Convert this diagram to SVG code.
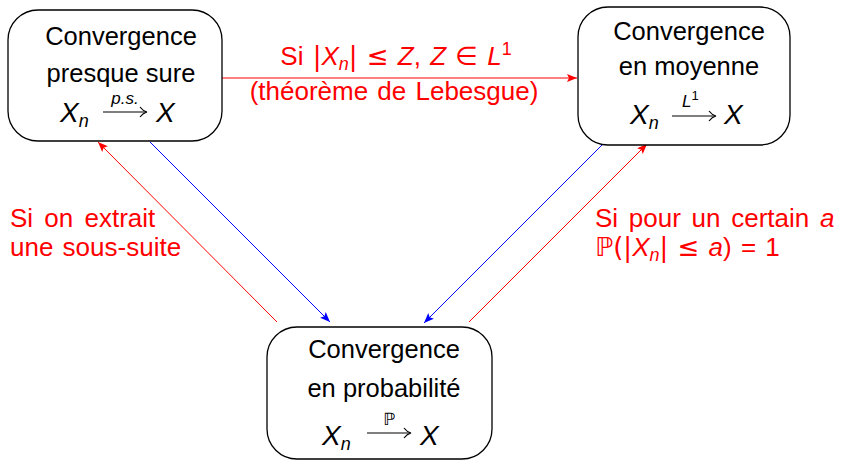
<svg xmlns="http://www.w3.org/2000/svg" width="841" height="460" viewBox="0 0 841 460">
<style>
text{font-family:"Liberation Sans","DejaVu Sans",sans-serif;font-size:25.5px;fill:#000}
.i{font-style:italic}
.s{font-size:18px}
.sm{font-size:17px}
.mx{font-size:28px;font-style:italic}
.red{fill:#ff0000;font-size:26px;word-spacing:2px}
.box{fill:#fff;stroke:#000;stroke-width:1.3}
.ar{stroke:#000;stroke-width:1.2;fill:none}
.sym{font-family:"DejaVu Sans",sans-serif}
</style>
<defs>
<marker id="hr" markerUnits="userSpaceOnUse" markerWidth="12" markerHeight="10" refX="10" refY="4" orient="auto" overflow="visible"><path d="M0,0 L10,4 L0,8 L2,4 z" fill="#ff0000"/></marker>
<marker id="hb" markerUnits="userSpaceOnUse" markerWidth="12" markerHeight="10" refX="10" refY="4" orient="auto" overflow="visible"><path d="M0,0 L10,4 L0,8 L2,4 z" fill="#0000ff"/></marker>
</defs>
<g id="connectors">
<line x1="222" y1="78" x2="577" y2="78" stroke="#ff0000" stroke-width="1" marker-end="url(#hr)"/>
<line x1="277" y1="322" x2="98" y2="142" stroke="#ff0000" stroke-width="1" marker-end="url(#hr)"/>
<line x1="150" y1="142" x2="330" y2="322" stroke="#0000ff" stroke-width="1" marker-end="url(#hb)"/>
<line x1="603" y1="144" x2="424" y2="323" stroke="#0000ff" stroke-width="1" marker-end="url(#hb)"/>
<line x1="469" y1="322" x2="647" y2="144" stroke="#ff0000" stroke-width="1" marker-end="url(#hr)"/>
<g id="label-top">
<text class="red" x="396" y="65" text-anchor="middle">Si <tspan class="sym">|</tspan><tspan class="i">X</tspan><tspan class="i s" dy="5">n</tspan><tspan class="sym" dy="-5">|</tspan> <tspan class="sym">≤</tspan> <tspan class="i">Z</tspan>, <tspan class="i">Z</tspan> <tspan class="sym">∈</tspan> <tspan class="i">L</tspan><tspan class="s" dy="-10">1</tspan></text>
<text class="red" x="394" y="100" text-anchor="middle">(théorème de Lebesgue)</text>
</g>
<g id="label-left">
<text class="red" x="10" y="227" style="word-spacing:4px">Si on extrait</text>
<text class="red" x="10" y="256">une sous-suite</text>
</g>
<g id="label-right">
<text class="red" x="595" y="227" style="word-spacing:3.5px">Si pour un certain <tspan class="i">a</tspan></text>
<text class="red" x="595" y="256"><tspan class="sym">ℙ(|</tspan><tspan class="i">X</tspan><tspan class="i s" dy="5">n</tspan><tspan class="sym" dy="-5">|</tspan> <tspan class="sym">≤</tspan> <tspan class="i">a</tspan>) = 1</text>
</g>
</g>
<g id="node-ps">
<rect class="box" x="8" y="10" width="214" height="131" rx="30"/>
<text x="121" y="45" text-anchor="middle">Convergence</text>
<text x="121" y="82" text-anchor="middle">presque sure</text>
<text x="60" y="122"><tspan class="mx">X</tspan><tspan class="i s" dy="5">n</tspan></text>
<line class="ar" x1="103" y1="112" x2="146" y2="112"/>
<path class="ar" d="M140,107 Q143,111 147,112 Q143,113 140,117"/>
<text class="i sm" x="125" y="104" text-anchor="middle">p.s.</text>
<text class="mx" x="156" y="122">X</text>
</g>
<g id="node-moy">
<rect class="box" x="578" y="7" width="212" height="138" rx="30"/>
<text x="689" y="40" text-anchor="middle">Convergence</text>
<text x="689" y="75" text-anchor="middle">en moyenne</text>
<text x="630" y="124"><tspan class="mx">X</tspan><tspan class="i s" dy="5">n</tspan></text>
<line class="ar" x1="672" y1="116" x2="715" y2="116"/>
<path class="ar" d="M709,111 Q712,115 716,116 Q712,117 709,121"/>
<text x="682" y="107"><tspan class="i sm">L</tspan><tspan font-size="13" dy="-7">1</tspan></text>
<text class="mx" x="724" y="124">X</text>
</g>
<g id="node-prob">
<rect class="box" x="267" y="327" width="225" height="132" rx="30"/>
<text x="384" y="358" text-anchor="middle">Convergence</text>
<text x="384" y="397" text-anchor="middle">en probabilité</text>
<text x="322" y="445"><tspan class="mx">X</tspan><tspan class="i s" dy="5">n</tspan></text>
<line class="ar" x1="367" y1="433" x2="410" y2="433"/>
<path class="ar" d="M404,428 Q407,432 411,433 Q407,434 404,438"/>
<text class="sym sm" x="389" y="425" text-anchor="middle">ℙ</text>
<text class="mx" x="420" y="445">X</text>
</g>
</svg>
